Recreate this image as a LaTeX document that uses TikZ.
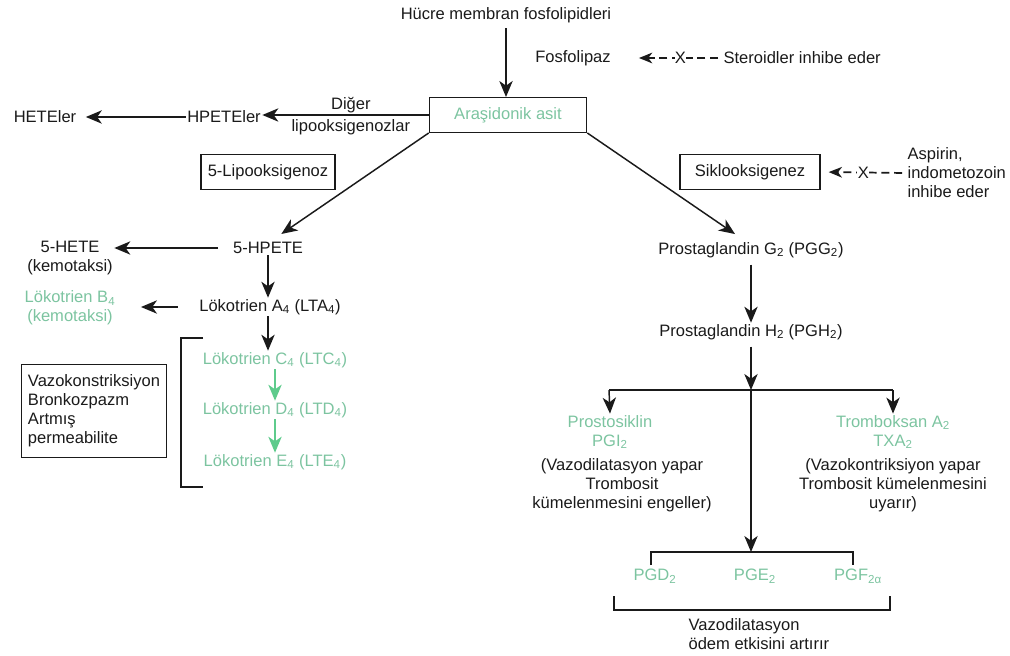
\documentclass[tikz,border=0pt]{standalone}
\usepackage{fontspec}
\setmainfont{Liberation Sans}
\usetikzlibrary{arrows.meta,positioning,calc}
\definecolor{cInk}{HTML}{1A1A1A}
\definecolor{cGreen}{HTML}{7CC4A0}
\definecolor{cLeaf}{HTML}{5ECB8C}
\tikzset{
  txt/.style={font=\fontsize{12.4}{14.3}\selectfont,text=cInk,inner sep=1pt,align=center},
  gtxt/.style={txt,text=cGreen},
  ebox/.style={txt,draw=cInk,line width=1pt,inner sep=5pt,minimum height=26pt},
  arr/.style={-{Stealth[length=12pt,width=10pt,inset=3.5pt]},line width=1.1pt,color=cInk},
  garr/.style={arr,color=cLeaf},
  inh/.style={-{Stealth[length=10pt,width=8pt,inset=3pt]},dash pattern=on 6pt off 3.5pt,line width=1.3pt,color=cInk},
  brk/.style={line width=1.1pt,color=cInk},
  xmark/.style={txt,fill=white,inner sep=0.3pt},
}

\begin{document}
\begin{tikzpicture}[x=0.75pt,y=-0.75pt]
  \useasboundingbox (0,0) rectangle (1010,656);
  % source and the enzyme
  \node[txt] (memb) at (506,15) {Hücre membran fosfolipidleri};
  \node[txt] (fpl) at (573,58) {Fosfolipaz};
  \node[txt,anchor=west] (ster) at (722,58) {Steroidler inhibe eder};
  \node[ebox,text=cGreen,minimum width=118pt] (aa) at (508,115) {Araşidonik asit};
  \draw[arr,shorten <=3pt] (memb.south) -- (memb.south |- aa.north);
  \draw[inh,shorten <=3pt] (ster.west) -- node[xmark] {X} ([xshift=20pt]fpl.east);
  % other lipoxygenases
  \node[txt] (hpetel) at (224,117) {HPETEler};
  \node[txt] (hetel) at (45,117) {HETEler};
  \draw[arr] (aa.west) -- node[txt,above,xshift=4pt] {Diğer} node[txt,below,xshift=4pt,yshift=-2pt] {lipooksigenozlar} (aa.west -| hpetel.east);
  \draw[arr,shorten >=6pt] (hpetel.west) -- (hetel.east);
  % 5-lipoxygenase branch
  \node[ebox] (lox) at (268,172) {5-Lipooksigenoz};
  \node[txt] (hpete) at (268,248) {5-HPETE};
  \node[txt] (hete) at (70,258) {5-HETE\\(kemotaksi)};
  \node[txt] (lta) at (270,307) {Lökotrien A\textsubscript{4} (LTA\textsubscript{4})};
  \node[gtxt] (ltb) at (70,308) {Lökotrien B\textsubscript{4}\\(kemotaksi)};
  \node[gtxt] (ltc) at (275,360) {Lökotrien C\textsubscript{4} (LTC\textsubscript{4})};
  \node[gtxt] (ltd) at (275,410) {Lökotrien D\textsubscript{4} (LTD\textsubscript{4})};
  \node[gtxt] (lte) at (275,462) {Lökotrien E\textsubscript{4} (LTE\textsubscript{4})};
  \draw[arr] (aa.south west) -- ([xshift=10pt,yshift=5pt]hpete.north);
  \draw[arr,shorten <=10pt] (hpete.west) -- (hpete.west -| hete.east);
  \draw[arr] (hpete.south) -- (hpete.south |- lta.north);
  \draw[arr,shorten <=15pt,shorten >=18pt] (lta.west) -- (lta.west -| ltb.east);
  \draw[arr] (lta.south -| hpete.south) -- (ltc.north -| hpete.south);
  \draw[garr] (ltc.south) -- (ltd.north);
  \draw[garr] (ltd.south) -- (lte.north);
  \coordinate (bt) at (203,338);
  \coordinate (bb) at (203,487);
  \draw[brk] (bt) -- ++(-22,0) |- (bb);
  \node[ebox,align=left,minimum width=104pt,minimum height=70pt] (vaz) at (94,411) {Vazokonstriksiyon\\Bronkozpazm\\Artmış\\permeabilite};
  % cyclooxygenase branch
  \node[ebox,minimum width=105pt] (cox) at (750,172) {Siklooksigenez};
  \node[txt,anchor=west,align=left] (asp) at (906,173) {Aspirin,\\indometozoin\\inhibe eder};
  \draw[inh,shorten <=3pt,shorten >=6pt] (asp.west) -- node[xmark] {X} (cox.east);
  \node[txt] (pgg) at (751,250) {Prostaglandin G\textsubscript{2} (PGG\textsubscript{2})};
  \node[txt] (pgh) at (751,332) {Prostaglandin H\textsubscript{2} (PGH\textsubscript{2})};
  \draw[arr] (aa.south east) -- ([xshift=-12pt,yshift=5pt]pgg.north);
  \draw[arr,shorten <=4pt] (pgg.south) -- (pgh.north);
  \coordinate (split) at (751,390);
  \coordinate (lsp) at (609,390);
  \coordinate (rsp) at (893,390);
  \draw[arr,shorten <=4pt] (pgh.south) -- (split);
  \draw[brk] (lsp) -- (rsp);
  \node[gtxt] (pgi) at (610,432) {Prostosiklin\\PGI\textsubscript{2}};
  \node[txt] (pgidesc) at (622,485) {(Vazodilatasyon yapar\\Trombosit\\kümelenmesini engeller)};
  \node[gtxt] (txa) at (893,432) {Tromboksan A\textsubscript{2}\\TXA\textsubscript{2}};
  \node[txt] (txadesc) at (893,485) {(Vazokontriksiyon yapar\\Trombosit kümelenmesini\\uyarır)};
  \draw[arr] (lsp) -- (pgi.north);
  \draw[arr] (rsp) -- (txa.north);
  % prostaglandins D, E, F
  \coordinate (ptop) at (751,552);
  \draw[arr] (split) -- (ptop);
  \draw[brk] (651,565) |- (853,552) -- (853,565);
  \node[gtxt] (pgd) at (655,576) {PGD\textsubscript{2}};
  \node[gtxt] (pge) at (755,576) {PGE\textsubscript{2}};
  \node[gtxt] (pgf) at (858,576) {PGF\textsubscript{2α}};
  \draw[brk] (614,596) |- (890,610) -- (890,596);
  \node[txt,anchor=west,align=left] (ode) at (687,634) {Vazodilatasyon\\ödem etkisini artırır};
\end{tikzpicture}
\end{document}
